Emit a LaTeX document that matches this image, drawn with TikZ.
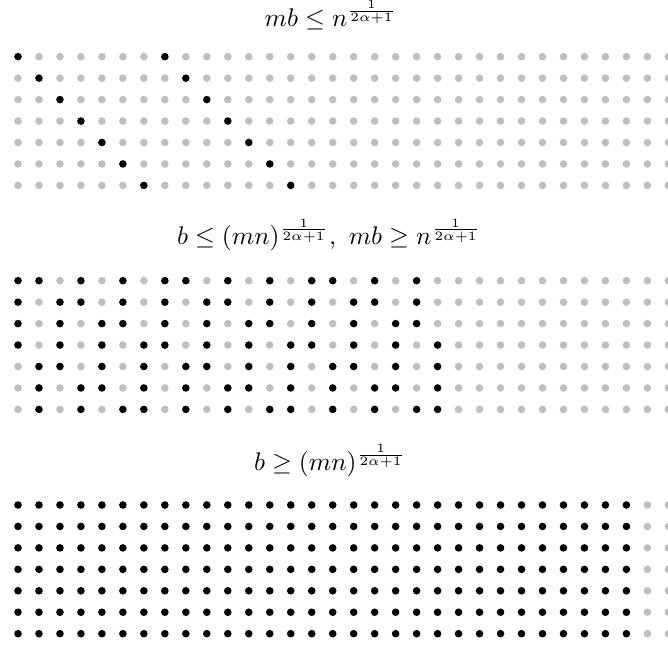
\documentclass[tikz,border=0pt]{standalone}
\begin{document}
\begin{tikzpicture}[x=0.3922pt,y=-0.3922pt,
  on/.style={fill=black},
  off/.style={fill=black!25},
  title/.style={anchor=base,inner sep=0pt}]
\useasboundingbox (0,0) rectangle (668,646);
\def\dx{20.98}\def\dy{21.45}\def\rad{3.8}
% titles
\node[title] (t1) at (330.8,26.7) {$mb \leq n^{\frac{1}{2\alpha+1}}$};
\node[title] (t2) at (329,245) {$b \leq (mn)^{\frac{1}{2\alpha+1}},\ mb \geq n^{\frac{1}{2\alpha+1}}$};
\node[title] (t3) at (330,470.7) {$b \geq (mn)^{\frac{1}{2\alpha+1}}$};
% grid 1
\foreach \r in {0,...,6} {
  \foreach \c in {0,...,31} {
    \pgfmathsetmacro\xx{18+\dx*\c}
    \pgfmathsetmacro\yy{56.7+\dy*\r}
    \def\st{off}
    \ifnum\c=\r\relax \def\st{on}\fi
    \ifnum\c=\numexpr\r+7\relax \def\st{on}\fi
    \fill[\st] (\xx,\yy) circle[radius=\rad];
  }
}
% grid 2
\def\patt{{1,1,0,1,0,1,0, 1,0,1,1,0,1,0, 1,0,1,0,1,1,0, 1,0,1,0,1,0,1, 0,1,1,0,1,0,1, 0,1,0,1,1,0,1, 0,1,0,1,0,1,1}}
\foreach \r in {0,...,6} {
  \foreach \c in {0,...,31} {
    \pgfmathsetmacro\xx{18+\dx*\c}
    \pgfmathsetmacro\yy{280.7+\dy*\r}
    \pgfmathtruncatemacro\k{mod(\c,7)}
    \pgfmathtruncatemacro\v{\patt[7*\r+\k]}
    \ifnum\c>20\relax \def\v{0}\fi
    \ifnum\v=1\relax \def\st{on}\else \def\st{off}\fi
    \fill[\st] (\xx,\yy) circle[radius=\rad];
  }
}
% grid 3
\foreach \r in {0,...,6} {
  \foreach \c in {0,...,31} {
    \pgfmathsetmacro\xx{18+\dx*\c}
    \pgfmathsetmacro\yy{505+\dy*\r}
    \ifnum\c<30\relax \def\st{on}\else \def\st{off}\fi
    \fill[\st] (\xx,\yy) circle[radius=\rad];
  }
}
\end{tikzpicture}
\end{document}
